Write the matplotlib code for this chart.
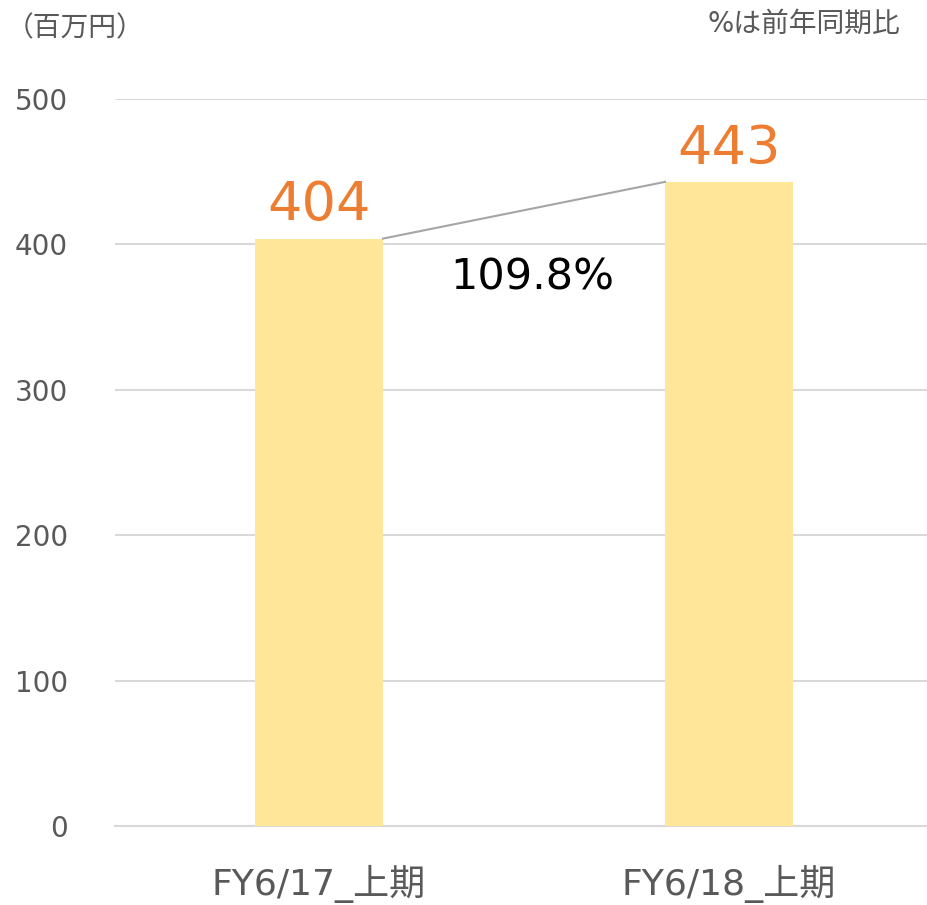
import matplotlib
matplotlib.use("Agg")
import matplotlib.pyplot as plt

plt.rcParams['font.family'] = ['DejaVu Sans', 'Noto Sans CJK JP']

categories = ["FY6/17_上期", "FY6/18_上期"]
values = [404, 443]
growth_label = "109.8%"
yticks = [0, 100, 200, 300, 400, 500]
unit_label = "（百万円）"
note_label = "%は前年同期比"

W, H = 928, 905
fig = plt.figure(figsize=(W / 100, H / 100), dpi=100)
ax = fig.add_axes([115 / W, 79 / H, 813 / W, 727 / H])

x = list(range(len(categories)))
bw = 0.312
ax.bar(x, values, width=bw, color="#FFE699", zorder=3)

ax.set_xlim(-0.4976, 1.4854)
ax.set_ylim(0, 500)
ax.set_yticks(yticks)
ax.set_yticklabels([str(v) for v in yticks])
ax.set_xticks(x)
ax.set_xticklabels(categories)

ax.grid(axis="y", color="#D9D9D9", linewidth=1.5, zorder=0)
ax.tick_params(axis="y", length=0, pad=34, labelsize=20, labelcolor="#595959")
ax.tick_params(axis="x", length=0, pad=28, labelsize=26, labelcolor="#595959")
for s in ["top", "right", "left"]:
    ax.spines[s].set_visible(False)
ax.spines["bottom"].set_color("#D9D9D9")
ax.spines["bottom"].set_linewidth(1.5)
ax.set_axisbelow(True)

for xi, v in zip(x, values):
    ax.text(xi, v + 5, str(v), ha="center", va="bottom", fontsize=39,
            color="#ED7D31", zorder=4)

# connector line between bar tops
ax.plot([x[0] + bw / 2, x[1] - bw / 2], [values[0], values[1]],
        color="#A5A5A5", linewidth=1.5, zorder=4)
ax.text(0.52, 377, growth_label, ha="center", va="center", fontsize=31,
        color="#000000", zorder=4)

fig.text(6 / W, 1 - 28 / H, unit_label, ha="left", va="center",
         fontsize=20, color="#595959")
fig.text(900 / W, 1 - 24 / H, note_label, ha="right", va="center",
         fontsize=20, color="#595959")

fig.savefig("out.png", dpi=100)
